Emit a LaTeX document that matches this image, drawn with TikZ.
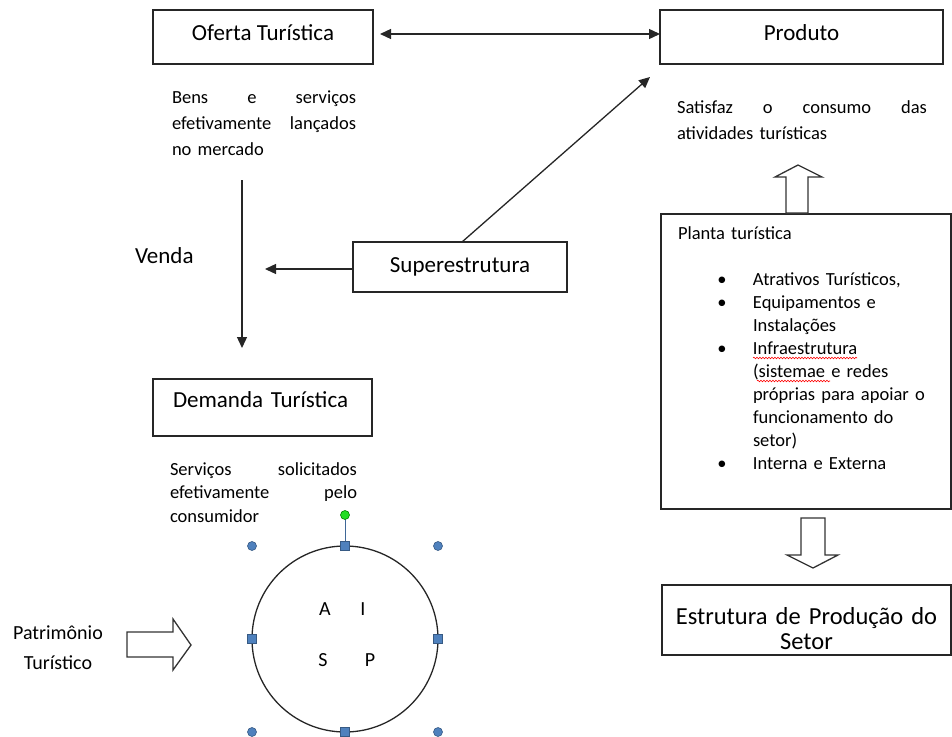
\documentclass[tikz,border=0pt]{standalone}
\usepackage{fontspec}
\setmainfont{Carlito}
\usetikzlibrary{arrows.meta,decorations.pathmorphing}
\definecolor{hblue}{HTML}{4F81BD}
\definecolor{hgreen}{HTML}{22DD22}
\newcommand{\jline}[2]{\leavevmode\hbox to #1{#2}}
\begin{document}
\begin{tikzpicture}[x=1pt,y=-1pt,
  every node/.style={inner sep=0pt, outer sep=0pt},
  box/.style={draw=black!85, line width=1.4pt, rectangle},
  ttl/.style={font=\fontsize{23}{27}\selectfont},
  small/.style={font=\fontsize{18.5}{26}\selectfont},
  tip/.style={-{Triangle[length=11pt,width=10pt]}},
  conn/.style={line width=1.3pt, draw=black!85, tip},
  blockarrow/.style={draw=black!80, line width=1.3pt, fill=white, line join=miter},
  hsq/.style={rectangle, draw=hblue!70!black, fill=hblue, minimum size=8.5pt, line width=0.6pt},
  hcirc/.style={circle, draw=hblue!70!black, fill=hblue, minimum size=9pt, line width=0.6pt},
  spell/.style={draw=red, line width=0.6pt, decorate, decoration={snake, amplitude=0.8pt, segment length=3pt}}
]
\useasboundingbox (0,0) rectangle (952,736);

% ---- boxes ----
\node[box, ttl, minimum width=220pt, minimum height=54pt, text height=16pt, text depth=10pt] (oferta) at (263,37) {Oferta Turística};
\node[box, ttl, minimum width=283pt, minimum height=54pt, text height=16pt, text depth=10pt] (produto) at (801.5,37) {Produto};
\node[box, ttl, minimum width=214pt, minimum height=50pt, text height=16pt, text depth=6pt] (supe) at (460,267) {Superestrutura};
\node[box, ttl, text width=179pt, align=left, inner xsep=20pt, minimum height=57pt, text height=16pt, text depth=17pt] (demanda) at (262.5,407.5) {Demanda Turística};
\node[box, minimum width=290pt, minimum height=295pt] (planta) at (806,361.5) {};
\node[box, font=\fontsize{24.5}{25}\selectfont, text width=289pt, align=center, minimum height=70pt] (estrutura) at (806.5,620) {\rule{0pt}{34pt}Estrutura de Produção do\\Setor};

% ---- texts ----
\node[small, anchor=base west, text width=184pt, align=left] (bens) at (172,103)
  {\jline{184pt}{Bens\hfill e\hfill serviços}\\\jline{184pt}{efetivamente\hfill lançados}\\no mercado};
\node[small, anchor=base west, text width=250pt, align=left] (satisfaz) at (677,113)
  {\jline{250pt}{Satisfaz\hfill o\hfill consumo\hfill das}\\atividades turísticas};
\node[font=\fontsize{18.5}{23.5}\selectfont, anchor=base west, text width=187pt, align=left] (servicos) at (170,475)
  {\jline{187pt}{Serviços\hfill solicitados}\\\jline{187pt}{efetivamente\hfill pelo}\\consumidor};
\node[ttl, anchor=base west] (venda) at (135,263) {Venda};
\node[font=\fontsize{20}{30}\selectfont, anchor=base, text width=110pt, align=center] (patr) at (58,639) {Patrimônio\\Turístico};

\node[font=\fontsize{18.5}{23}\selectfont, anchor=base west, text width=265pt, align=left] (plantatxt) at (678,239)
  {Planta turística\\
   \mbox{}\\
   \hspace*{44pt}\makebox[0pt]{\textbullet}\hspace*{31pt}Atrativos Turísticos,\\
   \hspace*{44pt}\makebox[0pt]{\textbullet}\hspace*{31pt}Equipamentos e\\
   \hspace*{75pt}Instalações\\
   \hspace*{44pt}\makebox[0pt]{\textbullet}\hspace*{31pt}Infraestrutura\\
   \hspace*{75pt}(sistemae e redes\\
   \hspace*{75pt}próprias para apoiar o\\
   \hspace*{75pt}funcionamento do\\
   \hspace*{75pt}setor)\\
   \hspace*{44pt}\makebox[0pt]{\textbullet}\hspace*{31pt}Interna e Externa};
\draw[spell] (753,358) -- (857,358);
\draw[spell] (757,381) -- (830,381);

% ---- circle AISP ----
\node[circle, draw=black!85, line width=1.3pt, minimum size=186pt] (aisp) at (345,639) {};
\node[font=\fontsize{20}{24}\selectfont, anchor=base] (la) at (325,615) {A};
\node[font=\fontsize{20}{24}\selectfont, anchor=base] (li) at (363,615) {I};
\node[font=\fontsize{20}{24}\selectfont, anchor=base] (ls) at (323,666) {S};
\node[font=\fontsize{20}{24}\selectfont, anchor=base] (lp) at (370,666) {P};

\coordinate (grnpos) at (345,515);
\draw[draw=hblue!80!black, line width=0.8pt] (grnpos) -- (aisp.north);
\node[hsq] (hn) at (aisp.north) {};
\node[hsq] (hs) at (aisp.south) {};
\node[hsq] (hw) at (aisp.west) {};
\node[hsq] (he) at (aisp.east) {};
\node[hcirc] (hnw) at (aisp.west |- aisp.north) {};
\node[hcirc] (hne) at (aisp.east |- aisp.north) {};
\node[hcirc] (hsw) at (aisp.west |- aisp.south) {};
\node[hcirc] (hse) at (aisp.east |- aisp.south) {};
\node[circle, draw=green!50!black, fill=hgreen, minimum size=9pt, line width=0.6pt] (grn) at (grnpos) {};

% ---- connectors ----
\draw[line width=1.3pt, draw=black!85, {Triangle[length=11pt,width=10pt]}-{Triangle[length=11pt,width=10pt]}]
  ([xshift=7pt,yshift=3pt]oferta.east) -- ([yshift=3pt]produto.west);
\coordinate (vtop) at (242,180);
\coordinate (vbot) at (242,348);
\draw[conn] (vtop) -- (vbot);
\coordinate (stip) at (265,269);
\draw[conn] ([yshift=-2pt]supe.west) -- (stip);
\coordinate (dtip) at (650,77);
\draw[conn] ([xshift=2pt]supe.north) -- (dtip);

% ---- block arrows ----
\draw[blockarrow] (786,213) -- (786,177) -- (775,177) -- (798,165) -- (822,177) -- (808,177) -- (808,213) -- cycle;
\draw[blockarrow] (801,518) -- (801,555) -- (787,555) -- (813,568) -- (838,555) -- (825,555) -- (825,518) -- cycle;
\draw[blockarrow] (127,632) -- (173,632) -- (173,619) -- (191,645) -- (173,670) -- (173,657) -- (127,657) -- cycle;
\end{tikzpicture}
\end{document}
